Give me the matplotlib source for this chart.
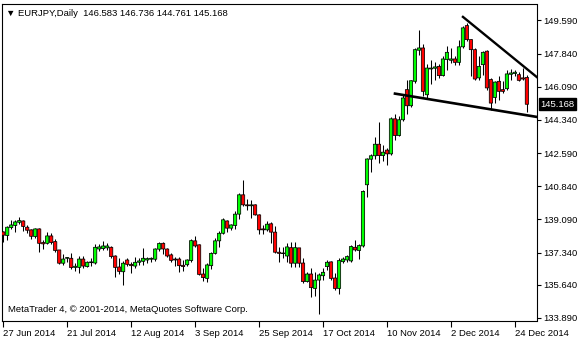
import matplotlib.pyplot as plt

# EURJPY daily candles (bar index 0 = 27 Jun 2014)
opens = [138.43, 138.24, 138.66, 138.77, 138.94, 139.01, 138.68, 138.54, 138.19, 138.59,
         137.87, 137.83, 138.22, 137.92, 137.48, 136.78, 137.04, 137.04, 136.56, 136.56,
         137.00, 136.60, 136.81, 136.79, 137.53, 137.55, 137.59, 137.62, 137.16, 136.58,
         136.33, 136.95, 136.72, 136.63, 136.83, 136.88, 136.95, 136.99, 136.99, 137.52,
         137.83, 137.53, 137.22, 137.00, 137.00, 136.67, 136.70, 136.92, 137.96, 137.75,
         136.21, 135.98, 136.65, 137.30, 137.96, 138.36, 139.01, 138.63, 138.77, 139.37,
         140.39, 139.86, 139.81, 139.86, 139.33, 138.59, 138.54, 138.86, 138.42, 137.36,
         137.29, 137.16, 137.60, 136.78, 137.59, 136.79, 135.81, 136.21, 135.45, 135.89,
         136.12, 136.60, 136.85, 136.00, 135.45, 136.86, 136.95, 136.90, 137.62, 137.45,
         137.69, 140.92, 142.27, 142.45, 143.06, 142.46, 142.75, 142.55, 144.40, 143.52,
         144.35, 145.94, 145.09, 146.38, 148.02, 148.14, 145.67, 147.03, 147.07, 147.17,
         146.68, 147.53, 147.49, 147.56, 147.38, 148.20, 149.32, 148.58, 148.05, 146.56,
         147.26, 147.97, 146.47, 145.53, 146.38, 145.94, 145.99, 146.75, 146.79, 146.73,
         146.56, 146.583]
highs = [138.49, 138.72, 139.07, 139.07, 139.24, 139.07, 138.80, 138.59, 138.66, 138.63,
         138.01, 138.41, 138.36, 138.05, 137.48, 137.27, 137.13, 137.30, 136.78, 137.16,
         137.16, 136.90, 137.04, 137.80, 137.78, 137.94, 137.87, 137.69, 137.22, 137.08,
         136.92, 137.04, 136.86, 137.09, 137.08, 137.59, 137.13, 137.13, 137.60, 137.90,
         137.90, 137.60, 137.34, 137.13, 137.13, 136.95, 137.00, 138.04, 138.22, 137.78,
         136.51, 136.78, 137.39, 138.10, 138.49, 139.16, 139.07, 138.86, 139.54, 140.51,
         141.18, 140.16, 140.13, 139.91, 139.37, 138.80, 139.01, 138.93, 138.75, 137.66,
         137.62, 137.83, 137.92, 137.90, 137.60, 137.04, 136.30, 136.51, 136.30, 136.25,
         136.51, 136.95, 136.92, 136.28, 137.04, 137.09, 137.22, 137.76, 138.01, 137.78,
         140.65, 142.33, 142.55, 143.42, 144.21, 143.03, 142.85, 144.47, 144.65, 144.53,
         145.67, 146.47, 146.47, 148.14, 149.11, 148.37, 147.30, 147.53, 147.38, 147.30,
         147.70, 148.23, 148.14, 147.70, 148.58, 149.32, 149.46, 148.62, 148.14, 147.70,
         147.97, 148.05, 146.56, 146.41, 146.64, 146.38, 147.00, 147.03, 146.96, 146.86,
         147.08, 146.736]
lows = [137.92, 138.01, 138.59, 138.45, 138.86, 138.50, 138.36, 138.05, 138.10, 137.39,
        137.53, 137.80, 137.78, 137.39, 136.74, 136.69, 136.83, 136.49, 136.35, 136.28,
        136.51, 136.56, 136.65, 136.74, 137.43, 137.48, 137.48, 137.08, 136.07, 136.21,
        135.63, 136.65, 136.28, 136.51, 136.67, 136.69, 136.78, 136.86, 136.92, 137.43,
        137.25, 137.09, 136.86, 136.65, 136.33, 136.35, 136.63, 136.86, 137.62, 136.14,
        135.84, 135.81, 136.48, 137.25, 137.66, 138.31, 138.41, 138.54, 138.59, 139.10,
        139.81, 139.60, 139.19, 139.30, 138.31, 138.33, 138.47, 137.87, 137.34, 136.83,
        137.04, 136.86, 136.56, 136.60, 136.60, 135.75, 135.77, 134.98, 135.05, 134.08,
        135.89, 136.42, 135.89, 135.36, 135.14, 136.78, 136.86, 136.85, 137.43, 136.99,
        137.66, 140.30, 141.62, 142.27, 142.09, 142.15, 141.97, 142.50, 143.26, 143.47,
        144.26, 144.67, 145.02, 146.29, 147.79, 145.59, 145.50, 146.26, 146.47, 146.56,
        146.64, 147.00, 147.35, 147.26, 147.26, 148.14, 148.49, 146.64, 146.43, 146.47,
        146.73, 145.94, 144.88, 145.23, 145.41, 145.76, 145.94, 146.47, 146.68, 146.38,
        146.43, 144.761]
closes = [138.26, 138.68, 138.80, 138.96, 139.03, 138.72, 138.52, 138.20, 138.59, 137.83,
          137.80, 138.22, 137.87, 137.45, 136.78, 137.00, 137.08, 136.55, 136.62, 137.00,
          136.63, 136.83, 136.85, 137.62, 137.64, 137.69, 137.69, 137.13, 136.56, 136.35,
          136.78, 136.72, 136.65, 136.83, 136.90, 137.04, 137.02, 137.04, 137.53, 137.82,
          137.53, 137.16, 136.93, 136.95, 136.65, 136.60, 136.95, 137.97, 137.69, 136.19,
          136.02, 136.69, 137.30, 137.96, 138.36, 139.07, 138.63, 138.80, 139.37, 140.39,
          139.86, 139.81, 139.86, 139.33, 138.54, 138.54, 138.84, 138.42, 137.36, 137.30,
          137.32, 137.64, 136.78, 137.60, 136.78, 135.81, 136.21, 135.49, 135.89, 136.16,
          136.30, 136.83, 135.98, 135.45, 136.92, 137.00, 137.13, 137.66, 137.48, 137.71,
          140.57, 142.28, 142.45, 143.06, 142.46, 142.64, 142.55, 144.40, 143.52, 144.35,
          145.50, 145.09, 146.41, 148.05, 148.14, 145.85, 147.08, 147.08, 147.14, 146.68,
          147.56, 147.91, 147.56, 147.38, 148.20, 149.20, 148.58, 148.05, 146.50, 147.17,
          147.91, 146.03, 145.23, 146.34, 145.85, 145.85, 146.77, 146.82, 146.86, 146.43,
          146.50, 145.168]

tick_pos = [0, 16, 32, 48, 64, 80, 96, 112, 128]
tick_labels = ['27 Jun 2014', '21 Jul 2014', '12 Aug 2014', '3 Sep 2014', '25 Sep 2014',
               '17 Oct 2014', '10 Nov 2014', '2 Dec 2014', '24 Dec 2014']
price_ticks = [149.59, 147.84, 146.09, 144.34, 142.59, 140.84, 139.09, 137.34, 135.64, 133.89]
price_labels = ['149.590', '147.840', '146.090', '144.340', '142.590', '140.840',
                '139.090', '137.340', '135.640', '133.890']

# trend lines (bar index, price)
upper_x = [115, 133.5]
upper_y = [149.78, 146.60]
lower_x = [98, 133.5]
lower_y = [145.73, 144.50]

plt.rcParams['font.family'] = ['Liberation Sans', 'DejaVu Sans']
fs = 6.8

fig = plt.figure(figsize=(5.8, 3.4), dpi=100)
ax = fig.add_axes([2 / 580, 19 / 340, 534.5 / 580, 317 / 340])

for i in range(len(opens)):
    o, h, l, c = opens[i], highs[i], lows[i], closes[i]
    ax.vlines(i, l, h, color='black', lw=0.75, zorder=2)
    if abs(c - o) < 0.03:
        ax.hlines((o + c) / 2, i - 0.38, i + 0.38, color='black', lw=1.0, zorder=3)
    else:
        col = '#00ff00' if c > o else '#ff0000'
        ax.bar(i, abs(c - o), 0.82, min(o, c), color=col, edgecolor='black',
               linewidth=0.55, zorder=3, snap=False)

ax.plot(upper_x, upper_y, color='black', lw=1.7, zorder=4)
ax.plot(lower_x, lower_y, color='black', lw=1.9, zorder=4)

ax.set_xlim(-0.3, 133.4)
ax.set_ylim(133.73, 150.46)

ax.yaxis.tick_right()
ax.set_yticks(price_ticks)
ax.set_yticklabels(price_labels)
ax.tick_params(axis='y', direction='out', length=3, width=0.8, pad=2, labelsize=fs)
ax.set_xticks(tick_pos)
ax.set_xticklabels(tick_labels, ha='left')
ax.tick_params(axis='x', direction='out', length=4, width=0.8, pad=2, labelsize=fs)
for s in ax.spines.values():
    s.set_linewidth(0.8)

ax.text(0.008, 0.985, '\u25bc EURJPY,Daily  146.583 146.736 144.761 145.168',
        transform=ax.transAxes, fontsize=fs, va='top', ha='left')
ax.text(0.011, 0.022, 'MetaTrader 4, \u00a9 2001-2014, MetaQuotes Software Corp.',
        transform=ax.transAxes, fontsize=fs, va='bottom', ha='left')

ax.annotate('145.168', xy=(1.0, closes[-1]), xycoords=('axes fraction', 'data'),
            xytext=(3, 0), textcoords='offset points', va='center', ha='left',
            fontsize=fs, color='white',
            bbox=dict(boxstyle='square,pad=0.15', fc='black', ec='black'))

fig.savefig('out.png', dpi=100)
